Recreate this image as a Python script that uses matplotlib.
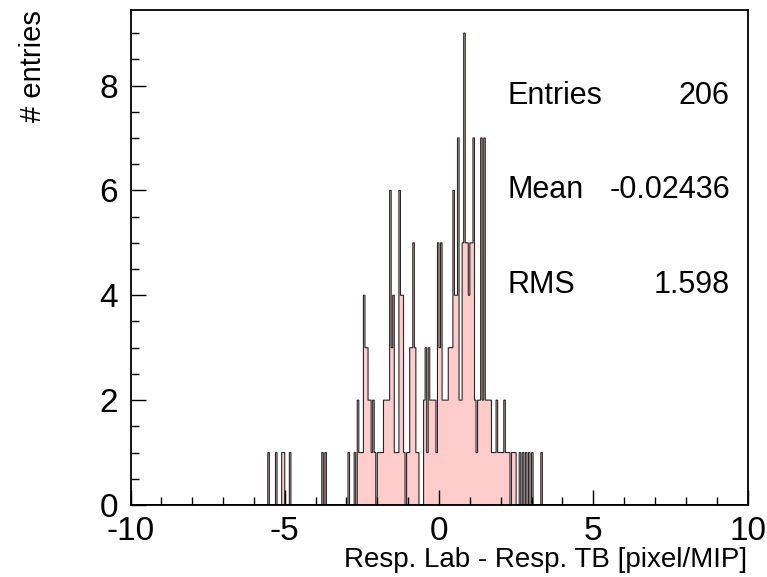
import numpy as np
import matplotlib
matplotlib.use("Agg")
import matplotlib.pyplot as plt
from matplotlib.ticker import MultipleLocator

plt.rcParams["font.family"] = ["Liberation Sans", "DejaVu Sans"]
plt.rcParams["axes.unicode_minus"] = False

# ---- Histogram contents (bin centre -> entries), 400 bins on [-10, 10]
bin_centres = [
    -5.525, -5.275, -5.075, -5.025, -4.825,
    -3.775, -3.675,
    -2.925, -2.725, -2.625, -2.575, -2.525, -2.475, -2.425, -2.375, -2.325,
    -2.275, -2.225, -2.175, -2.125, -2.075, -1.975, -1.925, -1.875, -1.825,
    -1.775, -1.725, -1.675, -1.625, -1.575, -1.525, -1.475, -1.425, -1.375,
    -1.325, -1.275, -1.225, -1.175, -1.125, -1.025, -0.975, -0.925, -0.875,
    -0.825, -0.775, -0.725, -0.675, -0.475, -0.425, -0.375, -0.325, -0.275,
    -0.225, -0.175, -0.125, -0.075, -0.025, 0.025, 0.075, 0.125, 0.175,
    0.225, 0.275, 0.325, 0.375, 0.425, 0.475, 0.525, 0.575, 0.625, 0.675,
    0.725, 0.775, 0.825, 0.875, 0.925, 0.975, 1.025, 1.075, 1.125, 1.175,
    1.225, 1.275, 1.325, 1.375, 1.425, 1.475, 1.525, 1.575, 1.625, 1.675,
    1.725, 1.775, 1.825, 1.875, 1.925, 1.975, 2.025, 2.075, 2.125, 2.175,
    2.225, 2.275, 2.375, 2.425, 2.475,
    2.625, 2.725, 2.825, 2.925, 3.025, 3.325,
]
counts = [
    1, 1, 1, 1, 1,
    1, 1,
    1, 1, 2, 1, 1, 1, 4, 3, 3,
    2, 2, 1, 2, 1, 1, 1, 1, 1,
    2, 2, 2, 2, 6, 3, 4, 1, 1,
    1, 6, 4, 4, 1, 1, 1, 3, 3,
    5, 3, 1, 1, 2, 3, 1, 3, 2,
    2, 2, 2, 1, 5, 3, 5, 2, 2,
    2, 2, 3, 3, 3, 6, 4, 4, 7, 2,
    2, 5, 9, 5, 5, 4, 5, 5, 7, 2,
    1, 2, 2, 7, 2, 7, 2, 2, 2, 2,
    1, 1, 1, 2, 1, 1, 1, 1, 2, 1,
    1, 1, 1, 1, 1,
    1, 1, 1, 1, 1, 1,
]

n_bins = 400
x_range = (-10, 10)
stats = [("Entries", "206"), ("Mean", "-0.02436"), ("RMS", "1.598")]

W, H = 767, 577
fig = plt.figure(figsize=(W / 100, H / 100), dpi=100)
ax = fig.add_axes([130.5 / W, 1 - 505 / H, 617 / W, 495.5 / H])

edges = np.linspace(x_range[0], x_range[1], n_bins + 1)
ax.hist(
    bin_centres,
    bins=edges,
    weights=counts,
    histtype="stepfilled",
    facecolor="#ffcccc",
    edgecolor="#262626",
    linewidth=0.8,
)

ax.set_xlim(*x_range)
ax.set_ylim(0, 9.45)

ax.xaxis.set_major_locator(MultipleLocator(5))
ax.xaxis.set_minor_locator(MultipleLocator(1))
ax.yaxis.set_major_locator(MultipleLocator(2))
ax.yaxis.set_minor_locator(MultipleLocator(0.5))
ax.tick_params(which="both", direction="in", width=1.0)
ax.tick_params(which="major", length=11, labelsize=24)
ax.tick_params(which="minor", length=5.5)
ax.tick_params(axis="x", which="major", pad=8)
ax.tick_params(axis="y", which="major", pad=9)
for s in ax.spines.values():
    s.set_linewidth(1.3)

# ---- Axis titles
fig.text(747 / W, 1 - 560 / H, "Resp. Lab - Resp. TB [pixel/MIP]",
         ha="right", va="center", fontsize=20)
fig.text(33 / W, 1 - 10 / H, "# entries", rotation=90,
         ha="center", va="top", fontsize=21)

# ---- Stats box text
for i, (name, val) in enumerate(stats):
    y = 1 - (96 + 94.5 * i) / H
    fig.text(507 / W, y, name, ha="left", va="center", fontsize=22)
    fig.text(730 / W, y, val, ha="right", va="center", fontsize=22)

fig.savefig("out.png", dpi=100)
